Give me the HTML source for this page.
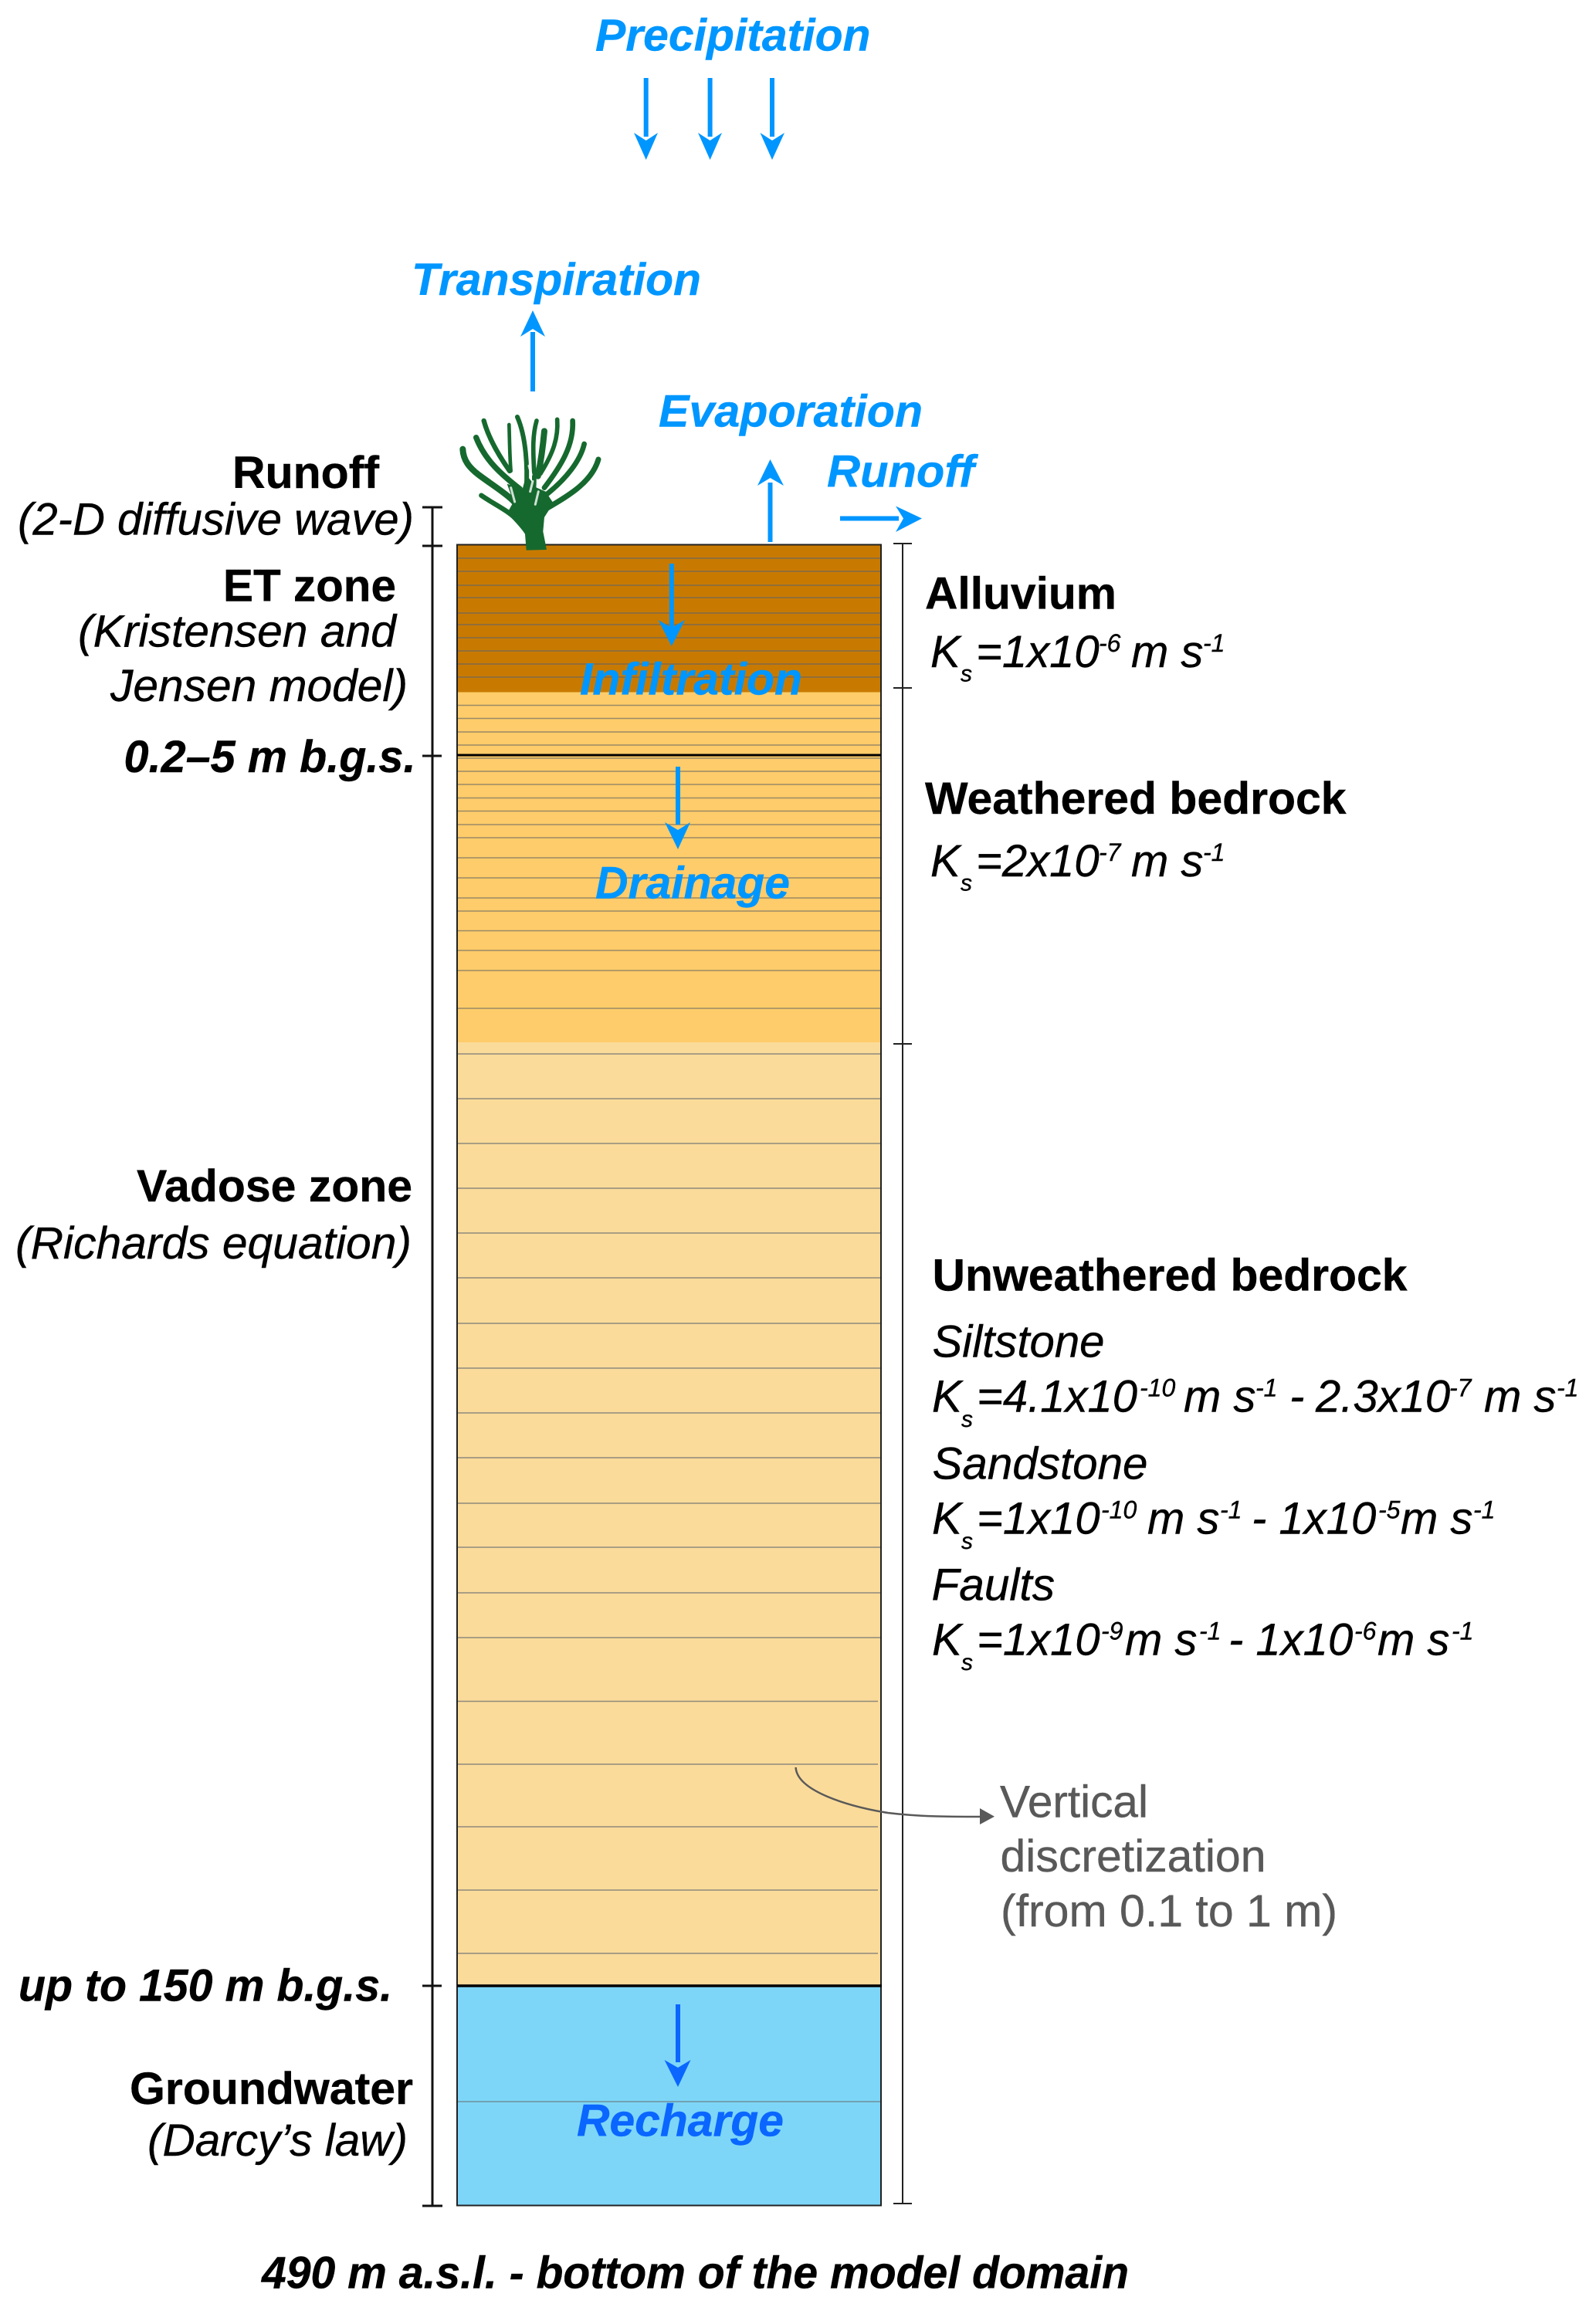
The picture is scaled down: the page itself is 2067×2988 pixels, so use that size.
<!DOCTYPE html>
<html><head><meta charset="utf-8"><style>
html,body{margin:0;padding:0;background:#fff}
svg{display:block}
text{font-family:"Liberation Sans",Arial,sans-serif;font-size:58px;fill:#000;stroke:#000;stroke-width:.4px;white-space:pre}
.b{font-weight:bold}.i{font-style:italic}
.bi{font-weight:bold;font-style:italic}
.bl{font-weight:bold;font-style:italic;fill:#0096ff;stroke:#0096ff}
.rc{font-weight:bold;font-style:italic;fill:#0a66ff;stroke:#0a66ff}
.g{fill:#595959;stroke:#595959}
.sm{font-size:32px}.sb{font-size:30px}
</style></head><body>
<svg xmlns="http://www.w3.org/2000/svg" width="2067" height="2988" viewBox="0 0 2067 2988">
<defs><filter id="bl" x="-10%" y="-10%" width="120%" height="120%"><feGaussianBlur stdDeviation="0.8"/></filter></defs>
<rect width="2067" height="2988" fill="#fff"/>

<!-- layers -->
<rect x="592" y="705" width="549" height="192" fill="#c87a00"/>
<rect x="592" y="896.500" width="549" height="453.500" fill="#fecc6a"/>
<rect x="592" y="1350" width="549" height="1222" fill="#fadb9a"/>
<rect x="592" y="2572" width="549" height="285" fill="#7dd6f8"/>

<!-- discretization lines -->
<path fill="none" stroke="#7f6a4c" stroke-width="1.600" d="M593 723H1140M593 740H1140M593 758H1140M593 774H1140M593 794H1140M593 809H1140M593 826H1140M593 843H1140M593 860H1140M593 877H1140"/>
<path fill="none" stroke="#9a8a66" stroke-width="1.500" d="M593 913.500H1140M593 930.500H1140M593 948H1140M593 965H1140M593 982H1140M593 999H1140M593 1016H1140M593 1033.500H1140M593 1050.500H1140M593 1068H1140M593 1085H1140M593 1111H1140M593 1137H1140M593 1163H1140M593 1180H1140M593 1205.500H1140M593 1231H1140M593 1257H1140M593 1306H1140"/>
<path fill="none" stroke="#8e8a7c" stroke-width="1.500" d="M593 1365H1140M593 1423H1140M593 1481H1140M593 1539H1140M593 1597H1140M593 1655H1140M593 1714H1140M593 1772H1140M593 1830H1140M593 1888H1140M593 1947H1140M593 2004H1140M593 2063H1140M593 2121H1140M593 2203.500H1137M593 2285H1137M593 2366H1137M593 2448H1137M593 2530H1137"/>
<path fill="none" stroke="#6f8f9c" stroke-width="1.600" d="M593 2722H1140"/>

<!-- box -->
<rect x="592" y="705.500" width="549" height="2151" fill="none" stroke="#222" stroke-width="2"/>
<path fill="none" stroke="#000" stroke-width="3" d="M592 978H1141"/>
<path fill="none" stroke="#000" stroke-width="3.500" d="M592 2572H1142"/>

<!-- left axis -->
<path fill="none" stroke="#111" stroke-width="3" d="M560 657V2857M547 657H573M547 707H573M547 979H572M547 2572H572M547 2857H573"/>
<!-- right axis -->
<path fill="none" stroke="#222" stroke-width="2" d="M1169 704V2854M1157 704H1181M1157 891H1181M1157 1352H1181M1157 2854H1181"/>

<!-- tree -->
<g transform="translate(500 500) scale(.3333)" filter="url(#bl)">
<g fill="none" stroke="#14692f" stroke-linecap="round" stroke-linejoin="round">
<path d="M545 515 C510 440 440 405 360 345 C325 318 300 290 298 245" stroke-width="24"/>
<path d="M515 525 C470 480 420 460 370 425" stroke-width="19"/>
<path d="M520 400 C450 345 385 290 350 200" stroke-width="22"/>
<path d="M480 330 C445 280 400 210 380 135" stroke-width="19"/>
<path d="M485 330 C480 270 480 210 478 150" stroke-width="14"/>
<path d="M545 400 C550 320 545 200 510 120" stroke-width="18"/>
<path d="M575 390 C580 320 560 220 585 135" stroke-width="17"/>
<path d="M590 350 C600 300 610 230 615 175" stroke-width="24"/>
<path d="M600 340 C650 260 670 200 665 130" stroke-width="17"/>
<path d="M615 395 C680 310 730 230 725 135" stroke-width="20"/>
<path d="M625 420 C700 360 755 290 770 225" stroke-width="20"/>
<path d="M625 475 C720 420 800 370 825 285" stroke-width="21"/>
</g>
<path fill="#14692f" d="M545 638L540 575C520 545 490 515 470 495L495 450L470 380L530 400L545 345L585 395L620 410L650 455L615 510L610 565L624 636Z"/>
<path d="M485 395L500 450M592 410L580 460M570 370L560 410M525 310L530 345M555 310L565 345" stroke="#fff" stroke-opacity=".8" stroke-width="9" fill="none" stroke-linecap="round"/>
</g>

<!-- blue arrows -->
<g fill="#0096ff" stroke="none">
<path d="M833.700 101h6v76h-6zM916.600 101h6v76h-6zM997 101h6v76h-6z"/>
<path d="M836.700 207L821 172L836.700 182L852 172ZM919.600 207L904 172L919.600 182L935 172ZM1000 207L984.500 172L1000 182L1016 172Z"/>
<path d="M687 430h6v77h-6zM994.500 625h6v77h-6zM1088 668.500h76v6h-76z"/>
<path d="M690 402L674 436L690 426L706 436ZM997.500 595L981 629L997.500 619L1015 629ZM1194 671.500L1160 655.500L1170 671.500L1160 689Z"/>
<path d="M866.800 730h6v84h-6zM875 993h6v75h-6z"/>
<path d="M869.800 837L852.500 803L869.800 813L887 803ZM878 1100L861 1065L878 1075L894 1065Z"/>
</g>
<g fill="#0a66ff"><path d="M875 2596h6v75h-6z"/><path d="M878 2703L860.500 2668L878 2678L894.500 2668Z"/></g>

<!-- curved leader -->
<path d="M1030.600 2289C1032 2320 1100 2340 1150 2348C1190 2353 1230 2353 1272 2353" fill="none" stroke="#595959" stroke-width="2.500"/>
<path d="M1288 2352.700L1269 2342V2363Z" fill="#595959"/>

<!-- blue labels -->
<text class="bl" x="771" y="65.500" textLength="356.500" lengthAdjust="spacingAndGlyphs">Precipitation</text>
<text class="bl" x="533" y="382" textLength="375" lengthAdjust="spacingAndGlyphs">Transpiration</text>
<text class="bl" x="853" y="552.500" textLength="342" lengthAdjust="spacingAndGlyphs">Evaporation</text>
<text class="bl" x="1071" y="630.500" textLength="191" lengthAdjust="spacingAndGlyphs">Runoff</text>
<text class="bl" x="751" y="899.500" textLength="288" lengthAdjust="spacingAndGlyphs">Infiltration</text>
<text class="bl" x="771" y="1163.500" textLength="252" lengthAdjust="spacingAndGlyphs">Drainage</text>
<text class="rc" x="747" y="2766.500" textLength="268" lengthAdjust="spacingAndGlyphs">Recharge</text>

<!-- left labels -->
<text class="b" x="301" y="632" textLength="190" lengthAdjust="spacingAndGlyphs">Runoff</text>
<text class="i" x="23" y="692.500" textLength="513" lengthAdjust="spacingAndGlyphs">(2-D diffusive wave)</text>
<text class="b" x="289" y="778.500" textLength="224" lengthAdjust="spacingAndGlyphs">ET zone</text>
<text class="i" x="101" y="837.500" textLength="412" lengthAdjust="spacingAndGlyphs">(Kristensen and</text>
<text class="i" x="143" y="908" textLength="385" lengthAdjust="spacingAndGlyphs">Jensen model)</text>
<text class="bi" x="160.500" y="1000" textLength="378" lengthAdjust="spacingAndGlyphs">0.2–5 m b.g.s.</text>
<text class="b" x="177" y="1556" textLength="357" lengthAdjust="spacingAndGlyphs">Vadose zone</text>
<text class="i" x="20" y="1630" textLength="513" lengthAdjust="spacingAndGlyphs">(Richards equation)</text>
<text class="bi" x="24" y="2591.500" textLength="484" lengthAdjust="spacingAndGlyphs">up to 150 m b.g.s.</text>
<text class="b" x="168" y="2725" textLength="367" lengthAdjust="spacingAndGlyphs">Groundwater</text>
<text class="i" x="191" y="2792" textLength="337" lengthAdjust="spacingAndGlyphs">(Darcy’s law)</text>
<text class="bi" x="339" y="2963.500" textLength="1123" lengthAdjust="spacingAndGlyphs">490 m a.s.l. - bottom of the model domain</text>

<!-- right labels -->
<text class="b" x="1198" y="788.500" textLength="248" lengthAdjust="spacingAndGlyphs">Alluvium</text>
<text class="i" y="864"><tspan x="1205">K</tspan><tspan x="1244" y="882.500" class="sb">s</tspan><tspan x="1264" y="864">=1x10</tspan><tspan x="1423" y="844" class="sm">-6</tspan><tspan x="1465" y="864">m s</tspan><tspan x="1558" y="844" class="sm">-1</tspan></text>
<text class="b" x="1198" y="1054" textLength="545.500" lengthAdjust="spacingAndGlyphs">Weathered bedrock</text>
<text class="i" y="1135"><tspan x="1205">K</tspan><tspan x="1244" y="1153.500" class="sb">s</tspan><tspan x="1264" y="1135">=2x10</tspan><tspan x="1423" y="1115" class="sm">-7</tspan><tspan x="1465" y="1135">m s</tspan><tspan x="1558" y="1115" class="sm">-1</tspan></text>

<text class="b" x="1207.500" y="1671.500" textLength="615" lengthAdjust="spacingAndGlyphs">Unweathered bedrock</text>
<text class="i" x="1207.500" y="1757.500" textLength="223" lengthAdjust="spacingAndGlyphs">Siltstone</text>
<text class="i" y="1828.500"><tspan x="1207">K</tspan><tspan x="1245" y="1848" class="sb">s</tspan><tspan x="1265" y="1828.500">=4.1x10</tspan><tspan x="1476" y="1808.500" class="sm">-10</tspan><tspan x="1533" y="1828.500">m s</tspan><tspan x="1626" y="1808.500" class="sm">-1</tspan><tspan x="1670" y="1828.500">- </tspan><tspan x="1704" y="1828.500">2.3x10</tspan><tspan x="1877" y="1808.500" class="sm">-7</tspan><tspan x="1922" y="1828.500">m s</tspan><tspan x="2016" y="1808.500" class="sm">-1</tspan></text>
<text class="i" x="1207.500" y="1915.500" textLength="279" lengthAdjust="spacingAndGlyphs">Sandstone</text>
<text class="i" y="1986.500"><tspan x="1207">K</tspan><tspan x="1245" y="2006" class="sb">s</tspan><tspan x="1265" y="1986.500">=1x10</tspan><tspan x="1426" y="1966.500" class="sm">-10</tspan><tspan x="1486" y="1986.500">m s</tspan><tspan x="1580" y="1966.500" class="sm">-1</tspan><tspan x="1621" y="1986.500">- 1x10</tspan><tspan x="1785" y="1966.500" class="sm">-5</tspan><tspan x="1814" y="1986.500">m s</tspan><tspan x="1908" y="1966.500" class="sm">-1</tspan></text>
<text class="i" x="1206.500" y="2072.500" textLength="159.500" lengthAdjust="spacingAndGlyphs">Faults</text>
<text class="i" y="2143.500"><tspan x="1207">K</tspan><tspan x="1245" y="2163" class="sb">s</tspan><tspan x="1265" y="2143.500">=1x10</tspan><tspan x="1426" y="2123.500" class="sm">-9</tspan><tspan x="1457" y="2143.500">m s</tspan><tspan x="1553" y="2123.500" class="sm">-1</tspan><tspan x="1591" y="2143.500">- 1x10</tspan><tspan x="1754" y="2123.500" class="sm">-6</tspan><tspan x="1784" y="2143.500">m s</tspan><tspan x="1880" y="2123.500" class="sm">-1</tspan></text>

<text class="g" x="1295" y="2353.500" textLength="192" lengthAdjust="spacingAndGlyphs">Vertical</text>
<text class="g" x="1295.500" y="2424" textLength="344" lengthAdjust="spacingAndGlyphs">discretization</text>
<text class="g" x="1296" y="2495" textLength="436" lengthAdjust="spacingAndGlyphs">(from 0.1 to 1 m)</text>
</svg>
</body></html>
